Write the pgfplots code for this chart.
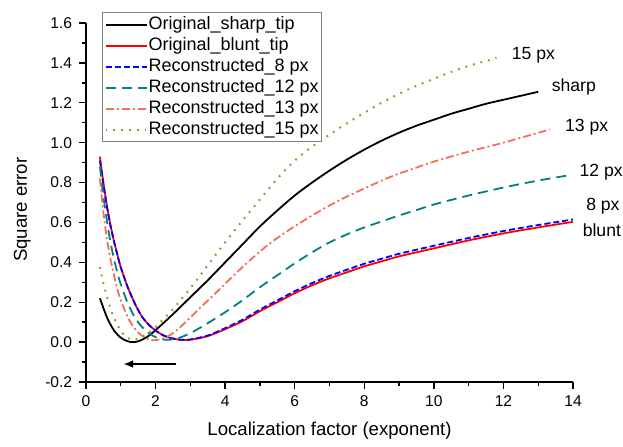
\documentclass[border=0pt]{standalone}
\usepackage{fontspec}
\setmainfont{Liberation Sans}
\usepackage{pgfplots}
\pgfplotsset{compat=1.18}
\usetikzlibrary{arrows.meta,calc}

\definecolor{c8}{RGB}{0,0,255}
\definecolor{c12}{RGB}{0,128,128}
\definecolor{c13}{RGB}{245,110,90}
\definecolor{c15}{RGB}{150,150,40}

\begin{document}
\begin{tikzpicture}
\begin{axis}[
    scale only axis,
    width=243.5pt, height=179.5pt,
    xmin=0, xmax=14, ymin=-0.2, ymax=1.6,
    axis x line*=bottom, axis y line*=left,
    axis line style={-, line width=0.8pt},
    tick align=outside,
    major tick length=3.4pt, minor tick length=2pt,
    every tick/.style={black, line width=0.7pt},
    xtick={0,2,...,14}, minor xtick={1,3,...,13},
    ytick={-0.2,0,0.2,0.4,0.6,0.8,1.0,1.2,1.4,1.6},
    minor ytick={-0.1,0.1,0.3,0.5,0.7,0.9,1.1,1.3,1.5},
    yticklabel style={/pgf/number format/.cd, fixed, fixed zerofill, precision=1},
    /pgf/number format/assume math mode=true,
    tick label style={font=\fontsize{7.8}{9}\selectfont},
    xlabel={Localization factor (exponent)},
    ylabel={Square error},
    label style={font=\fontsize{9.3}{11}\selectfont},
    xlabel style={at={(axis description cs:0.5,-0.136)}, anchor=center},
    ylabel style={at={(axis description cs:-0.131,0.48)}, anchor=center},
    clip=false,
    legend style={at={(axis description cs:0.033,1.0306)}, anchor=north west,
        draw=gray, line width=0.6pt, inner sep=1pt, row sep=0.5pt,
        font=\fontsize{9}{10}\selectfont,
        nodes={inner sep=0.5pt, text height=6.8pt, text depth=2.2pt}},
    legend cell align=left,
    legend image code/.code={\draw[#1] (0pt,0pt) -- (20.5pt,0pt);},
    every axis plot/.append style={line width=0.9pt, smooth},
]
% Original_sharp_tip
\addplot[black] coordinates {
(0.4,0.22) (0.6,0.125) (0.8,0.06) (1.0,0.022) (1.2,0.004) (1.35,0.0) (1.5,0.004)
(1.75,0.025) (2.0,0.06) (2.5,0.14) (3.0,0.225) (3.5,0.31) (4.0,0.40) (4.5,0.49)
(5.0,0.58) (5.5,0.66) (6.0,0.735) (6.5,0.80) (7.0,0.86) (7.5,0.915) (8.0,0.965)
(8.5,1.01) (9.0,1.05) (9.5,1.085) (10.0,1.115) (10.5,1.145) (11.0,1.17)
(11.5,1.195) (12.0,1.215) (12.5,1.235) (13.0,1.255)
};
% Original_blunt_tip
\addplot[red] coordinates {
(0.4,0.93) (0.5,0.80) (0.6,0.685) (0.7,0.59) (0.8,0.51) (0.9,0.44) (1.0,0.375)
(1.2,0.275) (1.4,0.195) (1.6,0.13) (1.8,0.088) (2.0,0.058) (2.2,0.036) (2.4,0.022)
(2.7,0.012) (3.0,0.012) (3.5,0.03) (4.0,0.065) (4.5,0.105) (5.0,0.155) (5.5,0.2)
(6.0,0.245) (6.5,0.285) (7.0,0.32) (7.5,0.35) (8.0,0.38) (8.5,0.405) (9.0,0.43)
(10.0,0.47) (11.0,0.51) (12.0,0.545) (13.0,0.575) (14.0,0.603)
};
% Reconstructed_8 px
\addplot[c8, dash pattern=on 3pt off 1.5pt] coordinates {
(0.4,0.91) (0.5,0.79) (0.6,0.68) (0.7,0.587) (0.8,0.508) (0.9,0.44) (1.0,0.375)
(1.2,0.275) (1.4,0.195) (1.6,0.13) (1.8,0.088) (2.0,0.058) (2.2,0.036) (2.4,0.022)
(2.7,0.012) (3.0,0.013) (3.5,0.033) (4.0,0.07) (4.5,0.112) (5.0,0.163) (5.5,0.209)
(6.0,0.255) (6.5,0.296) (7.0,0.332) (7.5,0.363) (8.0,0.393) (8.5,0.418) (9.0,0.443)
(10.0,0.483) (11.0,0.522) (12.0,0.557) (13.0,0.587) (14.0,0.615)
};
% Reconstructed_12 px
\addplot[c12, dash pattern=on 5pt off 3pt] coordinates {
(0.4,0.88) (0.5,0.73) (0.6,0.61) (0.7,0.505) (0.8,0.42) (0.9,0.35) (1.0,0.29)
(1.2,0.195) (1.4,0.125) (1.6,0.078) (1.8,0.045) (2.0,0.025) (2.27,0.012) (2.6,0.017)
(3.0,0.045) (3.5,0.095) (4.0,0.15) (4.5,0.21) (5.0,0.275) (5.5,0.335) (6.0,0.395)
(6.5,0.45) (7.0,0.50) (7.5,0.54) (8.0,0.575) (8.5,0.605) (9.0,0.635) (9.5,0.662)
(10.0,0.69) (11.0,0.735) (12.0,0.775) (13.0,0.81) (13.9,0.837)
};
% Reconstructed_13 px
\addplot[c13, dash pattern=on 4pt off 1.5pt on 1pt off 1.5pt] coordinates {
(0.4,0.82) (0.5,0.65) (0.6,0.52) (0.7,0.42) (0.8,0.34) (0.9,0.265) (1.0,0.21)
(1.2,0.125) (1.4,0.068) (1.6,0.033) (1.89,0.01) (2.2,0.017) (2.5,0.045) (2.8,0.09)
(3.3,0.175) (3.75,0.25) (4.25,0.335) (4.71,0.41) (5.25,0.49) (5.86,0.565) (6.5,0.635)
(7.0,0.685) (7.5,0.73) (8.0,0.77) (8.5,0.81) (9.0,0.845) (9.5,0.875) (10.0,0.905)
(11.0,0.955) (12.0,1.0) (13.33,1.066)
};
% Reconstructed_15 px
\addplot[c15, line width=1pt, dash pattern=on 0.9pt off 3pt] coordinates {
(0.4,0.377) (0.5,0.294) (0.69,0.177) (0.88,0.094) (1.12,0.03) (1.36,0.012) (1.6,0.025)
(1.8,0.045) (2.0,0.075) (2.25,0.12) (2.5,0.165) (3.0,0.27) (3.5,0.385) (4.0,0.50)
(4.5,0.61) (5.0,0.715) (5.5,0.82) (6.0,0.91) (6.5,0.98) (7.0,1.04) (7.5,1.097)
(8.0,1.15) (8.5,1.20) (9.0,1.245) (9.5,1.285) (10.0,1.32) (10.5,1.355) (11.0,1.385)
(11.5,1.41) (11.8,1.425)
};
\legend{Original\_sharp\_tip, Original\_blunt\_tip, Reconstructed\_8 px,
        Reconstructed\_12 px, Reconstructed\_13 px, Reconstructed\_15 px}

\draw[line width=1pt, -{Latex[length=5pt,width=4pt]}] (axis cs:2.59,-0.11) -- (axis cs:1.07,-0.11);
\begin{scope}[every node/.style={anchor=west, inner sep=0pt, font=\fontsize{8.8}{10}\selectfont}]
\node at (axis cs:12.23,1.44) {15 px};
\node at (axis cs:13.38,1.28) {sharp};
\node at (axis cs:13.76,1.078) {13 px};
\node at (axis cs:14.18,0.852) {12 px};
\node at (axis cs:14.37,0.68) {8 px};
\node at (axis cs:14.27,0.561) {blunt};
\end{scope}
\end{axis}
\path ($(current axis.south west)+(-43pt,-29.5pt)$) rectangle ($(current axis.north east)+(25pt,11.5pt)$);
\end{tikzpicture}
\end{document}
